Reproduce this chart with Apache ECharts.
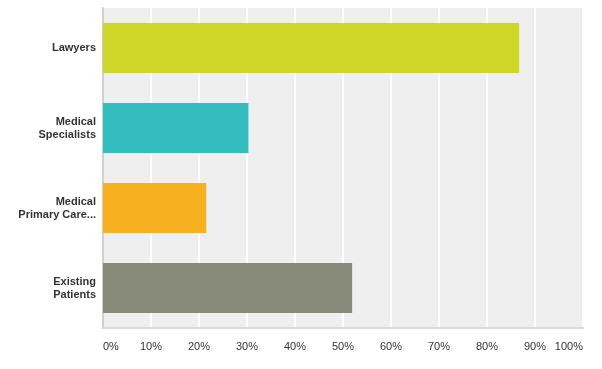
<!DOCTYPE html>
<html>
<head>
<meta charset="utf-8">
<script src="https://cdn.jsdelivr.net/npm/echarts@6/dist/echarts.min.js"></script>
<style>html,body{margin:0;padding:0;background:#fff}#c{width:602px;height:369px}</style>
</head>
<body>
<div id="c"></div>
<script>
var categories = ['Lawyers', 'Medical\nSpecialists', 'Medical\nPrimary Care...', 'Existing\nPatients'];
var values = [86.7, 30.3, 21.5, 51.9];
var barColors = ['#cfd628', '#33bdbf', '#f7b020', '#888a79'];
var xTicks = [0, 10, 20, 30, 40, 50, 60, 70, 80, 90, 100];

var chart = echarts.init(document.getElementById('c'), null, {renderer: 'canvas'});
chart.setOption({
  animation: false,
  grid: {
    left: 103, right: 19, top: 8, bottom: 41,
    show: true, backgroundColor: '#efefef', borderWidth: 0
  },
  xAxis: {
    type: 'value', min: 0, max: 100, interval: 10,
    axisLine: {show: true, lineStyle: {color: '#d9d9d9', width: 2}},
    axisTick: {show: false},
    splitLine: {show: true, lineStyle: {color: '#ffffff', width: 2}},
    axisLabel: {
      formatter: function (v) { return xTicks.indexOf(v) >= 0 ? v + '%' : ''; },
      color: '#333', fontSize: 11, fontFamily: 'Liberation Sans, Arial, sans-serif',
      margin: 13, alignMinLabel: 'left', alignMaxLabel: 'right'
    }
  },
  yAxis: {
    type: 'category', data: categories, inverse: true,
    axisLine: {show: true, lineStyle: {color: '#d0d0d0', width: 2}},
    axisTick: {show: false},
    splitLine: {show: false},
    axisLabel: {
      color: '#333', fontSize: 11, fontWeight: 'bold', lineHeight: 13,
      fontFamily: 'Liberation Sans, Arial, sans-serif', margin: 7, align: 'right'
    }
  },
  series: [{
    type: 'bar',
    data: values.map(function (v, i) { return {value: v, itemStyle: {color: barColors[i]}}; }),
    barWidth: 50
  }]
});
</script>
</body>
</html>
